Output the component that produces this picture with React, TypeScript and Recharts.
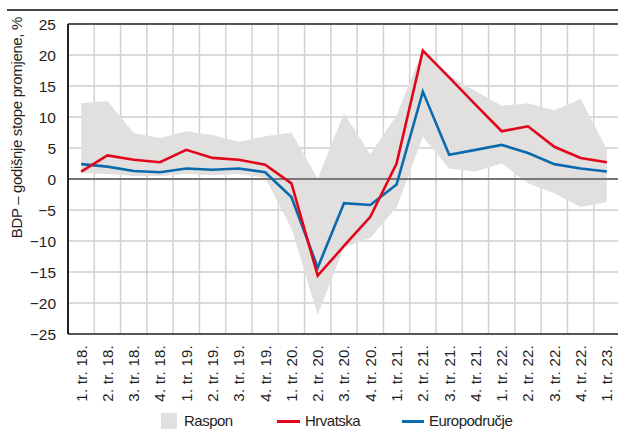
import React from 'react';
import {
  ComposedChart,
  Area,
  Line,
  XAxis,
  YAxis,
  CartesianGrid,
  ReferenceLine,
  Legend,
  Label,
} from 'recharts';

const categories = [
  '1. tr. 18.', '2. tr. 18.', '3. tr. 18.', '4. tr. 18.',
  '1. tr. 19.', '2. tr. 19.', '3. tr. 19.', '4. tr. 19.',
  '1. tr. 20.', '2. tr. 20.', '3. tr. 20.', '4. tr. 20.',
  '1. tr. 21.', '2. tr. 21.', '3. tr. 21.', '4. tr. 21.',
  '1. tr. 22.', '2. tr. 22.', '3. tr. 22.', '4. tr. 22.',
  '1. tr. 23.',
];

const hrvatska = [1.2, 3.8, 3.1, 2.7, 4.7, 3.4, 3.1, 2.3, -0.7, -15.6, -10.8, -6.1, 2.5, 20.7, 16.4, 12.0, 7.7, 8.5, 5.2, 3.4, 2.7];
const europodrucje = [2.4, 2.0, 1.3, 1.1, 1.7, 1.5, 1.7, 1.1, -2.9, -14.3, -3.9, -4.2, -0.9, 14.1, 3.9, 4.7, 5.5, 4.2, 2.4, 1.7, 1.2];
const rasponMin = [1.0, 0.8, 0.5, 0.5, 0.8, 0.6, 0.8, 0.2, -8.0, -21.9, -11.0, -9.5, -4.6, 6.8, 1.7, 1.2, 2.5, -0.7, -2.3, -4.5, -3.7];
const rasponMax = [12.2, 12.6, 7.4, 6.6, 7.7, 7.1, 6.0, 6.9, 7.5, 0.1, 10.6, 4.0, 10.3, 20.8, 16.6, 14.2, 11.8, 12.2, 11.1, 12.9, 4.8];

const yTicks = [-25, -20, -15, -10, -5, 0, 5, 10, 15, 20, 25];

const seriesNames = { raspon: 'Raspon', hrvatska: 'Hrvatska', euro: 'Europodručje' };
const yLabel = 'BDP – godišnje stope promjene, %';

const data = categories.map((c, i) => ({
  cat: c,
  hrvatska: hrvatska[i],
  euro: europodrucje[i],
  raspon: [rasponMin[i], rasponMax[i]],
}));

const FONT = "'Liberation Sans', Arial, sans-serif";
const RED = '#e2061c';
const BLUE = '#0a6aad';
const GRAY = '#e1e0df';
const TEXT = '#1e1e1e';

const XTick = (props: any) => {
  const { x, y, payload } = props;
  return (
    <text
      x={x}
      y={y + 11}
      transform={`rotate(-90, ${x}, ${y + 11})`}
      textAnchor="end"
      dy="0.36em"
      fontFamily={FONT}
      fontSize={15}
      letterSpacing={0.25}
      fill={TEXT}
    >
      {payload.value}
    </text>
  );
};

const legendText: React.CSSProperties = { position: 'absolute', top: 1, lineHeight: '20px', letterSpacing: -0.5 };

const renderLegend = () => (
  <div style={{ position: 'relative', height: 22, fontFamily: FONT, fontSize: 15, color: TEXT }}>
    <div style={{ position: 'absolute', left: 161, top: 3, width: 16, height: 16, background: GRAY }} />
    <span style={{ ...legendText, left: 184 }}>{seriesNames.raspon}</span>
    <div style={{ position: 'absolute', left: 277, top: 10, width: 23, height: 3, background: RED }} />
    <span style={{ ...legendText, left: 305 }}>{seriesNames.hrvatska}</span>
    <div style={{ position: 'absolute', left: 402, top: 10, width: 22, height: 3, background: BLUE }} />
    <span style={{ ...legendText, left: 429 }}>{seriesNames.euro}</span>
  </div>
);

export default function App() {
  return (
    <div style={{ position: 'absolute', left: 0, top: 0, width: 618, height: 432, overflow: 'hidden', background: '#fff' }}>
      <div style={{ position: 'absolute', left: 7, top: 9, width: 611, height: 2, background: '#444' }} />
      <ComposedChart
        width={640}
        height={432}
        data={data}
        margin={{ top: 24, right: 20, bottom: 0, left: 0 }}
      >
        <CartesianGrid vertical={false} stroke="#dadada" strokeWidth={2} />
        <CartesianGrid
          horizontal={false}
          stroke="#d2d2d2"
          strokeWidth={1.5}
          verticalCoordinatesGenerator={({ offset }: any) =>
            categories.slice(1).map((_, k) => offset.left + (offset.width * (k + 1)) / categories.length)
          }
        />
        <XAxis
          dataKey="cat"
          scale="band"
          interval={0}
          height={76}
          tickSize={0}
          tickMargin={0}
          tickLine={false}
          axisLine={{ stroke: '#555', strokeWidth: 2 }}
          tick={<XTick />}
        />
        <YAxis
          width={68}
          domain={[-25, 25]}
          ticks={yTicks}
          tickSize={0}
          tickMargin={12}
          tickLine={false}
          axisLine={{ stroke: '#222', strokeWidth: 2 }}
          tickFormatter={(v: number) => String(v).replace('-', '−')}
          tick={{ fontFamily: FONT, fontSize: 15.5, fill: TEXT }}
        >
          <Label
            content={() => (
              <text
                x={22}
                y={17}
                transform="rotate(-90, 22, 17)"
                textAnchor="end"
                fontFamily={FONT}
                fontSize={15}
                letterSpacing={-0.35}
                fill={TEXT}
              >
                {yLabel}
              </text>
            )}
          />
        </YAxis>
        <Area
          dataKey="raspon"
          name={seriesNames.raspon}
          fill={GRAY}
          fillOpacity={1}
          stroke="none"
          isAnimationActive={false}
        />
        <ReferenceLine y={25} stroke="#555" strokeWidth={2} />
        <ReferenceLine y={0} stroke="#555" strokeWidth={1.5} />
        <Line
          dataKey="euro"
          name={seriesNames.euro}
          stroke={BLUE}
          strokeWidth={2.6}
          dot={false}
          isAnimationActive={false}
        />
        <Line
          dataKey="hrvatska"
          name={seriesNames.hrvatska}
          stroke={RED}
          strokeWidth={2.6}
          dot={false}
          isAnimationActive={false}
        />
        <Legend verticalAlign="bottom" height={22} content={renderLegend} />
      </ComposedChart>
    </div>
  );
}
